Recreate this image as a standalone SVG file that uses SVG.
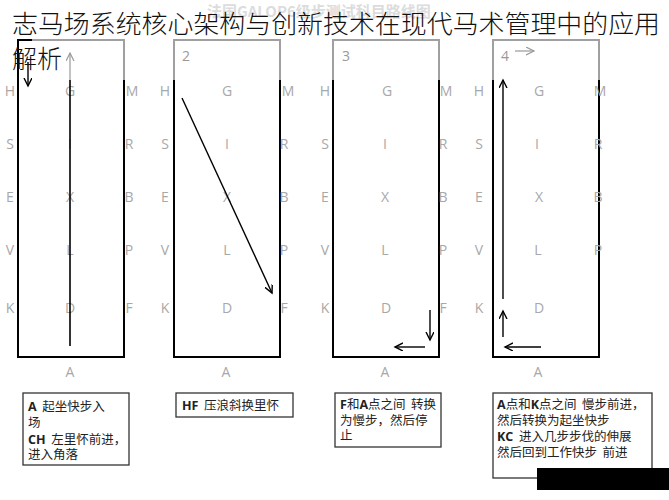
<svg xmlns="http://www.w3.org/2000/svg" width="669" height="500" viewBox="0 0 669 500">
<defs>
<marker id="ah" markerWidth="10" markerHeight="10" refX="8" refY="4" orient="auto" markerUnits="userSpaceOnUse">
<path d="M0,0 L8,4 L0,8" fill="none" stroke="#000" stroke-width="1.4"/>
</marker>
<marker id="ahg" markerWidth="10" markerHeight="10" refX="8" refY="4" orient="auto" markerUnits="userSpaceOnUse">
<path d="M0,0 L8,4 L0,8" fill="none" stroke="#999" stroke-width="1.2"/>
</marker>
<style>
.lt{font-family:"Open Sans","DejaVu Sans",sans-serif;font-size:14px;fill:#a8a8a8;text-anchor:middle}
.num{font-family:"Open Sans","DejaVu Sans",sans-serif;font-size:14px;fill:#999}
.blk{stroke:#000;stroke-width:2;fill:none}
.gry{stroke:#a0a0a0;stroke-width:2;fill:none}
.arr{stroke:#000;stroke-width:1.4;fill:none;marker-end:url(#ah)}
.box{fill:#fff;stroke:#333;stroke-width:1.3}
.bt{font-family:"Noto Sans CJK SC",sans-serif;font-size:12.5px;fill:#222;white-space:pre}
.bt tspan.b{font-family:"Open Sans","Liberation Sans",sans-serif;font-weight:bold}
.title{font-family:"Noto Sans CJK SC",sans-serif;font-size:25px;font-weight:300;fill:#111}
</style>
</defs>
<rect width="669" height="500" fill="#fff"/>
<text x="207" y="17" font-family="Noto Sans CJK SC,sans-serif" font-size="15" font-weight="bold" fill="#dcdcdc">法国GALOP6级步测试科目路线图</text>

<g id="arena1">
<path class="gry" d="M32,40 H124 V80"/>
<path class="blk" d="M32,40 H18 V357 H124 V80"/>
<text class="lt" x="10" y="96">H</text><text class="lt" x="70" y="96">G</text><text class="lt" x="132" y="96">M</text>
<text class="lt" x="10" y="149">S</text><text class="lt" x="70" y="149">I</text><text class="lt" x="129" y="149">R</text>
<text class="lt" x="10" y="202">E</text><text class="lt" x="70" y="202">X</text><text class="lt" x="129" y="202">B</text>
<text class="lt" x="10" y="255">V</text><text class="lt" x="70" y="255">L</text><text class="lt" x="129" y="255">P</text>
<text class="lt" x="10" y="313">K</text><text class="lt" x="70" y="313">D</text><text class="lt" x="129" y="313">F</text>
<text class="lt" x="70" y="377">A</text>
</g>
<g id="arena2">
<path class="gry" d="M174,80 V40 H280 V80"/>
<path class="blk" d="M174,80 V357 H280 V80"/>
<text class="num" x="182" y="61">2</text>
<text class="lt" x="165" y="96">H</text><text class="lt" x="227" y="96">G</text><text class="lt" x="288" y="96">M</text>
<text class="lt" x="165" y="149">S</text><text class="lt" x="227" y="149">I</text><text class="lt" x="284" y="149">R</text>
<text class="lt" x="165" y="202">E</text><text class="lt" x="227" y="202">X</text><text class="lt" x="284" y="202">B</text>
<text class="lt" x="165" y="255">V</text><text class="lt" x="227" y="255">L</text><text class="lt" x="284" y="255">P</text>
<text class="lt" x="165" y="313">K</text><text class="lt" x="227" y="313">D</text><text class="lt" x="284" y="313">F</text>
<text class="lt" x="226" y="377">A</text>
</g>
<g id="arena3">
<path class="gry" d="M333,80 V40 H439 V80"/>
<path class="blk" d="M333,80 V357 H439 V80"/>
<text class="num" x="342" y="61">3</text>
<text class="lt" x="325" y="96">H</text><text class="lt" x="387" y="96">G</text><text class="lt" x="446" y="96">M</text>
<text class="lt" x="325" y="149">S</text><text class="lt" x="385" y="149">I</text><text class="lt" x="443" y="149">R</text>
<text class="lt" x="325" y="202">E</text><text class="lt" x="385" y="202">X</text><text class="lt" x="443" y="202">B</text>
<text class="lt" x="325" y="255">V</text><text class="lt" x="385" y="255">L</text><text class="lt" x="443" y="255">P</text>
<text class="lt" x="325" y="313">K</text><text class="lt" x="386" y="313">D</text><text class="lt" x="443" y="313">F</text>
<text class="lt" x="385" y="377">A</text>
</g>
<g id="arena4">
<path class="gry" d="M493,80 V40 H599 V80"/>
<path class="blk" d="M493,80 V357 H599 V80"/>
<text class="num" x="501" y="61">4</text>
<text class="lt" x="479" y="96">H</text><text class="lt" x="539" y="96">G</text><text class="lt" x="600" y="96">M</text>
<text class="lt" x="479" y="149">S</text><text class="lt" x="537" y="149">I</text><text class="lt" x="598" y="149">R</text>
<text class="lt" x="479" y="202">E</text><text class="lt" x="539" y="202">X</text><text class="lt" x="598" y="202">B</text>
<text class="lt" x="479" y="255">V</text><text class="lt" x="538" y="255">L</text><text class="lt" x="598" y="255">P</text>
<text class="lt" x="479" y="313">K</text><text class="lt" x="539" y="313">D</text>
<text class="lt" x="538" y="377">A</text>
</g>

<g id="connectors">
<line x1="70" y1="346" x2="70" y2="80" stroke="#000" stroke-width="1.6"/>
<line x1="70" y1="80" x2="70" y2="53" stroke="#999" stroke-width="1.2" marker-end="url(#ahg)"/>
<line class="arr" x1="28" y1="62" x2="28" y2="86"/>
<line class="arr" x1="182" y1="98" x2="272" y2="293"/>
<line class="arr" x1="430" y1="310" x2="430" y2="340"/>
<line class="arr" x1="425" y1="347" x2="395" y2="347"/>
<line class="arr" x1="503" y1="299" x2="503" y2="80"/>
<line class="arr" x1="503" y1="337" x2="503" y2="311"/>
<line class="arr" x1="541" y1="347" x2="505" y2="347"/>
<line x1="515" y1="51" x2="534" y2="51" stroke="#999" stroke-width="1.2" marker-end="url(#ahg)"/>
</g>

<g id="note1">
<rect class="box" x="23" y="393" width="106" height="72"/>
<text class="bt" x="28" y="411"><tspan class="b">A</tspan>  起坐快步入</text>
<text class="bt" x="28" y="427">场</text>
<text class="bt" x="28" y="444"><tspan class="b">CH</tspan>  左里怀前进，</text>
<text class="bt" x="28" y="459">进入角落</text>
</g>
<g id="note2">
<rect class="box" x="176" y="393" width="117" height="24"/>
<text class="bt" x="182" y="410"><tspan class="b">HF</tspan>  压浪斜换里怀</text>
</g>
<g id="note3">
<rect class="box" x="335" y="393" width="106" height="54"/>
<text class="bt" x="340" y="409"><tspan class="b">F</tspan>和<tspan class="b">A</tspan>点之间  转换</text>
<text class="bt" x="340" y="425">为慢步，然后停</text>
<text class="bt" x="340" y="440">止</text>
</g>
<g id="note4">
<rect class="box" x="493" y="393" width="159" height="85"/>
<text class="bt" x="497" y="409"><tspan class="b">A</tspan>点和<tspan class="b">K</tspan>点之间  慢步前进，</text>
<text class="bt" x="497" y="425">然后转换为起坐快步</text>
<text class="bt" x="497" y="441"><tspan class="b">KC</tspan>  进入几步步伐的伸展</text>
<text class="bt" x="497" y="457">然后回到工作快步  前进</text>
</g>
<rect x="537" y="468" width="132" height="22" fill="#000"/>

<g id="title">
<text class="title" x="12" y="33" textLength="648" lengthAdjust="spacingAndGlyphs">志马场系统核心架构与创新技术在现代马术管理中的应用</text>
<text class="title" x="12" y="68">解析</text>
</g>
</svg>
